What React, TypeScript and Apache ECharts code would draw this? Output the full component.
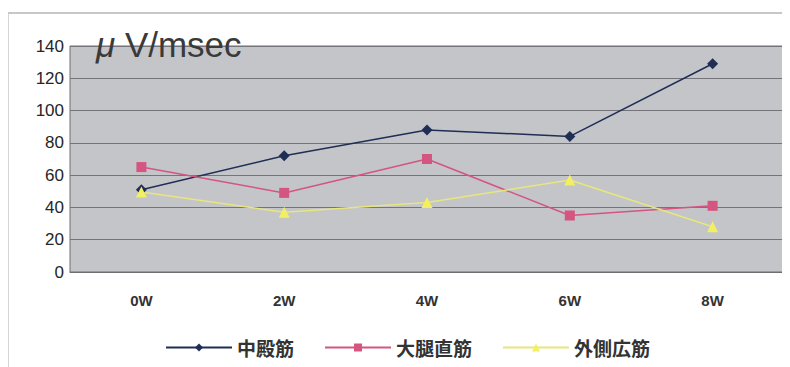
import React, { useEffect, useRef } from "react";
import * as echarts from "echarts";

const categories = ["0W", "2W", "4W", "6W", "8W"];
const gluteusMedius = [51, 72, 88, 84, 129];
const rectusFemoris = [65, 49, 70, 35, 41];
const vastusLateralis = [49.5, 37, 43, 57, 28];
const yTicks = { min: 0, max: 140, interval: 20 };
const unitMu = "μ";
const unitRest = " V/msec";
const seriesNames = ["中殿筋", "大腿直筋", "外側広筋"];

export default function App() {
  const ref = useRef<HTMLDivElement>(null);
  useEffect(() => {
    if (!ref.current) return;
    const chart = echarts.init(ref.current, null, { renderer: "svg" });
    const font = "'Liberation Sans', Arial, sans-serif";
    chart.setOption({
      animation: false,
      backgroundColor: "#ffffff",
      grid: { left: 62, right: 6, top: 38, bottom: 95, containLabel: false, show: true, backgroundColor: "#c4c5c9", borderColor: "#6e6e72", borderWidth: 1 },
      graphic: [
        { type: "line", shape: { x1: 0, y1: 5, x2: 790, y2: 5 }, style: { stroke: "#b4b4b4", lineWidth: 1.5 } },
        { type: "line", shape: { x1: 0, y1: 5, x2: 0, y2: 367 }, style: { stroke: "#c8c8c8", lineWidth: 1.5 } },
        {
          type: "text", left: 88, top: 19, z: 10,
          style: {
            text: `{mu|${unitMu}}{rest|${unitRest}}`,
            rich: {
              mu: { fontSize: 35, fontStyle: "italic", fontFamily: font, fill: "#3a3a3a", color: "#3a3a3a" },
              rest: { fontSize: 35, fontFamily: font, fill: "#3a3a3a", color: "#3a3a3a" },
            },
          },
        },
      ],
      legend: {
        data: seriesNames,
        left: 152, top: 325,
        itemWidth: 66, itemHeight: 10, itemGap: 30,
        textStyle: { fontSize: 19, fontWeight: "bold", color: "#333", fontFamily: "'Noto Sans CJK JP', sans-serif" },
      },
      xAxis: {
        type: "category",
        data: categories,
        boundaryGap: true,
        axisLine: { lineStyle: { color: "#6e6e72" } },
        axisTick: { show: false },
        axisLabel: { margin: 21, fontSize: 15, fontWeight: "bold", color: "#333", fontFamily: font },
      },
      yAxis: {
        type: "value",
        min: yTicks.min, max: yTicks.max, interval: yTicks.interval,
        axisLine: { show: false },
        axisTick: { show: false },
        axisLabel: { margin: 6, fontSize: 17, color: "#262626", fontFamily: font },
        splitLine: { lineStyle: { color: "#74747a", width: 1 } },
      },
      series: [
        {
          name: seriesNames[0], type: "line", data: gluteusMedius,
          symbol: "diamond", symbolSize: 11,
          lineStyle: { color: "#1f2e55", width: 1.5 },
          itemStyle: { color: "#1f2e55" },
        },
        {
          name: seriesNames[1], type: "line", data: rectusFemoris,
          symbol: "rect", symbolSize: 10,
          lineStyle: { color: "#d4557f", width: 1.5 },
          itemStyle: { color: "#d4557f" },
        },
        {
          name: seriesNames[2], type: "line", data: vastusLateralis,
          symbol: "triangle", symbolSize: 11,
          lineStyle: { color: "#e8e67c", width: 1.5 },
          itemStyle: { color: "#f2f060" },
        },
      ],
    });
    return () => chart.dispose();
  }, []);
  return <div ref={ref} style={{ width: 782, height: 359 }} />;
}
